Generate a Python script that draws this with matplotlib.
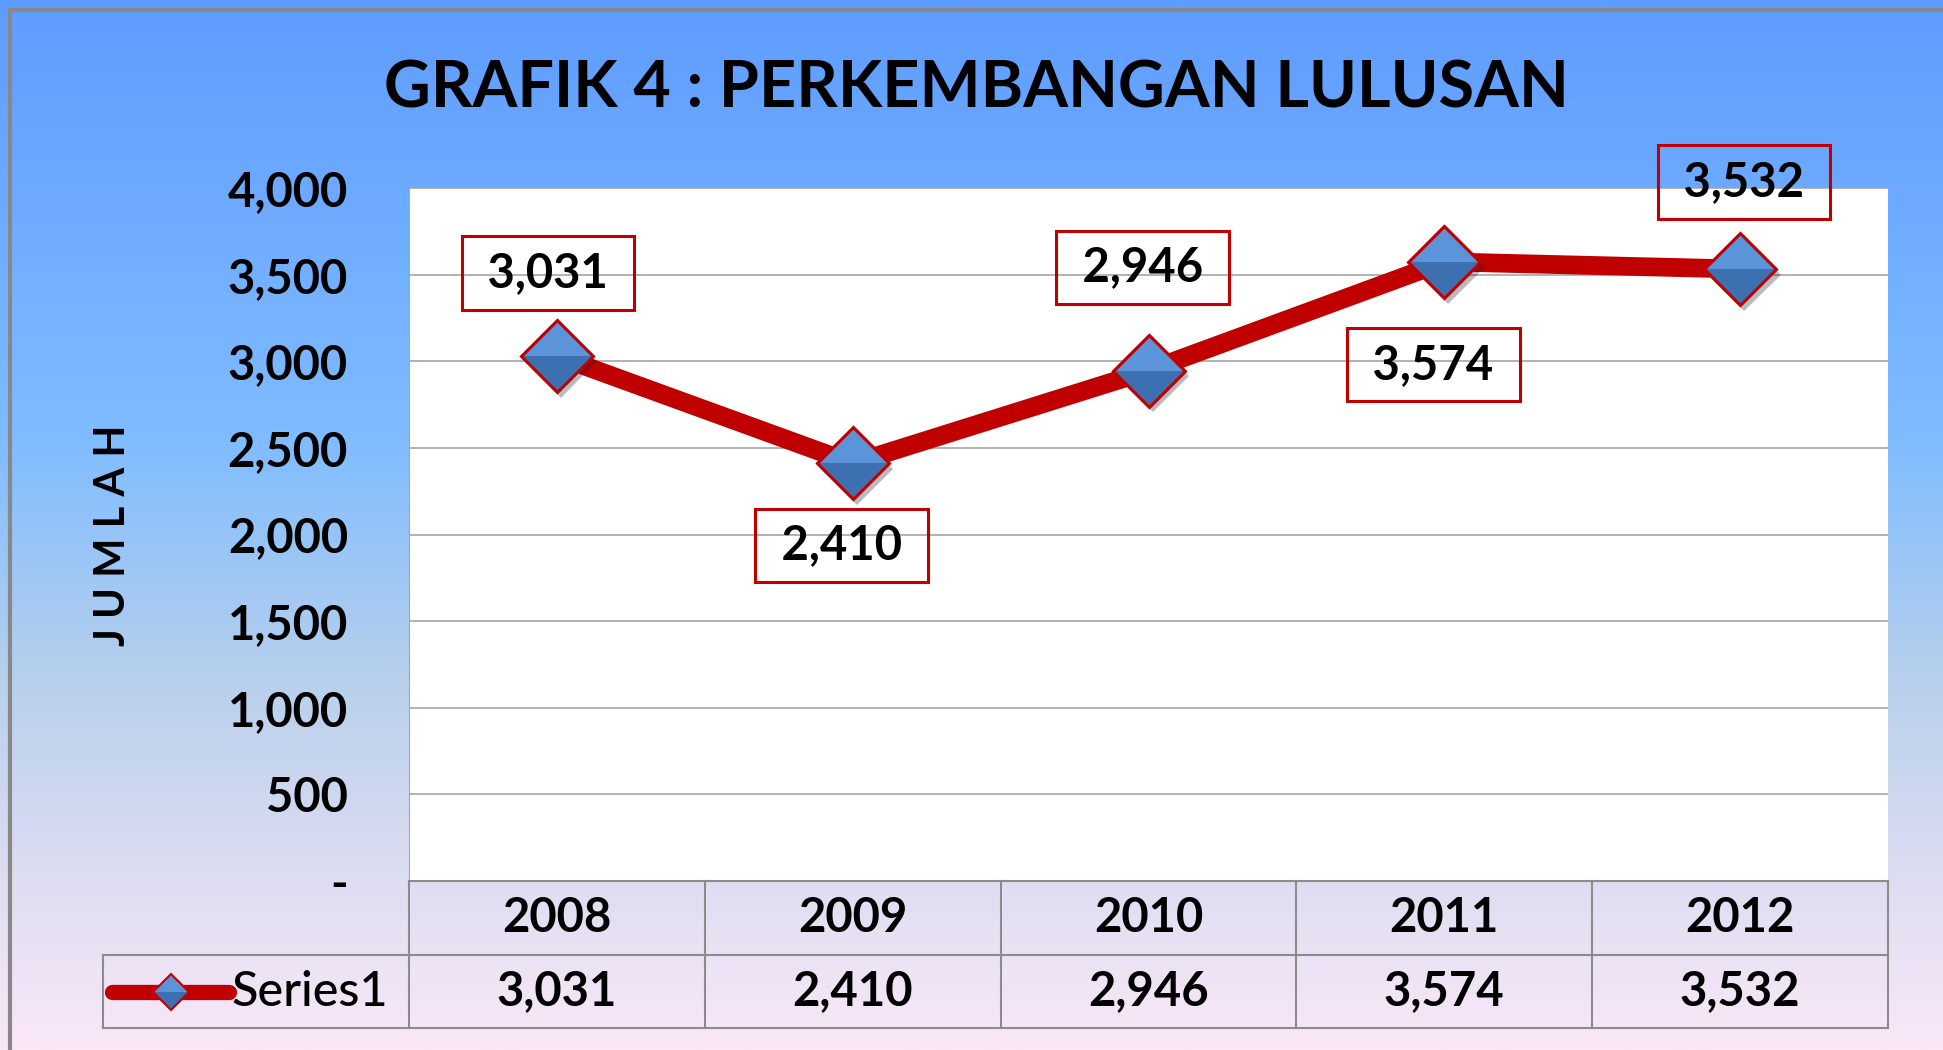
import matplotlib
matplotlib.use("Agg")
import matplotlib.pyplot as plt
import matplotlib.patheffects as pe
from matplotlib.colors import LinearSegmentedColormap
from matplotlib.lines import Line2D
import numpy as np

plt.rcParams['font.family'] = ['Lato', 'DejaVu Sans']
plt.rcParams['font.weight'] = 'bold'

years = ['2008', '2009', '2010', '2011', '2012']
lulusan = [3031, 2410, 2946, 3574, 3532]
series_name = 'Series1'
y_ticks = [0, 500, 1000, 1500, 2000, 2500, 3000, 3500, 4000]

# where each value box sits relative to its marker (pixels, up is +)
label_offsets = [(-9, 83), (-11, -82), (-6, 103), (-11, -103), (4, 87)]

W, H = 1943, 1050
fs = 34
red = '#C00000'
grid_gray = '#A6A6A6'
table_gray = '#8C8C8C'

fig = plt.figure(figsize=(W / 100, H / 100), dpi=100)

# gradient background
bg = fig.add_axes([0, 0, 1, 1], zorder=-10)
cmap = LinearSegmentedColormap.from_list('bg', [(0, '#5E9CFF'), (0.42, '#80BCFF'), (0.65, '#B8D0EC'),
                                                (0.85, '#E0DEF2'), (1, '#FAE8F8')])
bg.imshow(np.linspace(0, 1, 512).reshape(-1, 1), cmap=cmap, aspect='auto', extent=[0, 1, 0, 1])
bg.set_axis_off()

# chart border (left + top)
fig.add_artist(Line2D([10 / W, 10 / W], [0, 1 - 10 / H], transform=fig.transFigure, color='#888888', lw=3))
fig.add_artist(Line2D([10 / W, 1], [1 - 10 / H, 1 - 10 / H], transform=fig.transFigure, color='#888888', lw=3))

fig.text(976 / W, 1 - 89 / H, 'GRAFIK 4 : PERKEMBANGAN LULUSAN', ha='center', va='center',
         fontsize=46.5, fontweight='bold')
fig.text(113 / W, 1 - 535 / H, 'J U M L A H', rotation=90, ha='center', va='center',
         fontsize=30, fontweight='bold')

left, right, top, bottom = 409, 1888, 188, 881
ax = fig.add_axes([left / W, 1 - bottom / H, (right - left) / W, (bottom - top) / H])
ax.set_facecolor('white')


def diamonds(xs, ys, size, edge_w, shadow=False, **kw):
    # base with shadow, two-tone bevel fill, then the red outline on top
    eff = [pe.withSimplePatchShadow(offset=(3, -4), alpha=0.3)] if shadow else None
    ax.plot(xs, ys, ls='none', marker='D', ms=size, mfc='#3D70B0', mec='none', path_effects=eff, **kw)
    ax.plot(xs, ys, ls='none', marker='D', ms=size, fillstyle='top', mfc='#5B94D8', mfcalt='#3D70B0',
            mec='none', mew=0, **kw)
    ax.plot(xs, ys, ls='none', marker='D', ms=size, mfc='none', mec=red, mew=edge_w, **kw)


x = np.arange(len(years))
ax.plot(x, lulusan, color=red, lw=13.5, solid_capstyle='round', solid_joinstyle='round', zorder=3)
diamonds(x, lulusan, 37, 2.2, shadow=True, zorder=4)

for i, v in enumerate(lulusan):
    dx, dy = label_offsets[i]
    ax.annotate(f' {v:,} ', xy=(i, v), xytext=(dx, dy), textcoords='offset pixels',
                ha='center', va='center', fontsize=fs, zorder=5,
                bbox=dict(boxstyle='square,pad=0.31', fc='none', ec=red, lw=2.2))

ax.set_xlim(-0.5, len(years) - 0.5)
ax.set_ylim(0, 4000)
ax.set_yticks(y_ticks)
ax.set_yticklabels(['-' if v == 0 else f'{v:,}' for v in y_ticks])
ax.tick_params(axis='y', length=0, pad=44, labelsize=fs)
ax.tick_params(axis='x', bottom=False, labelbottom=False)
ax.yaxis.grid(True, color=grid_gray, lw=1.2)
ax.set_axisbelow(True)
for s in ['top', 'right']:
    ax.spines[s].set_visible(False)
ax.spines['left'].set_color(grid_gray)
ax.spines['bottom'].set_color(table_gray)
ax.spines['bottom'].set_linewidth(1.5)

# data table under the plot
r1 = -(955 - bottom) / (bottom - top)
r2 = -(1028 - bottom) / (bottom - top)
leg_left = (103 - left) / (right - left)
n = len(years)
kw = dict(transform=ax.transAxes, clip_on=False, color=table_gray, lw=1.5)
ax.plot([leg_left, 1], [r1, r1], **kw)
ax.plot([leg_left, 1], [r2, r2], **kw)
ax.plot([leg_left, leg_left], [r1, r2], **kw)
for k in range(n + 1):
    ax.plot([k / n, k / n], [0, r2], **kw)
for k in range(n):
    ax.text((k + 0.5) / n, r1 / 2, years[k], transform=ax.transAxes, ha='center', va='center', fontsize=fs)
    ax.text((k + 0.5) / n, (r1 + r2) / 2, f'{lulusan[k]:,}', transform=ax.transAxes,
            ha='center', va='center', fontsize=fs)

ym = (r1 + r2) / 2
ax.plot([(112 - left) / (right - left), (229 - left) / (right - left)], [ym, ym], transform=ax.transAxes,
        clip_on=False, color=red, lw=11, solid_capstyle='round')
diamonds([(171 - left) / (right - left)], [ym], 18, 1.5, transform=ax.transAxes, clip_on=False)
ax.text((231 - left) / (right - left), ym, series_name, transform=ax.transAxes, ha='left', va='center',
        fontsize=35, fontweight='medium')

fig.savefig('out.png', dpi=100)
